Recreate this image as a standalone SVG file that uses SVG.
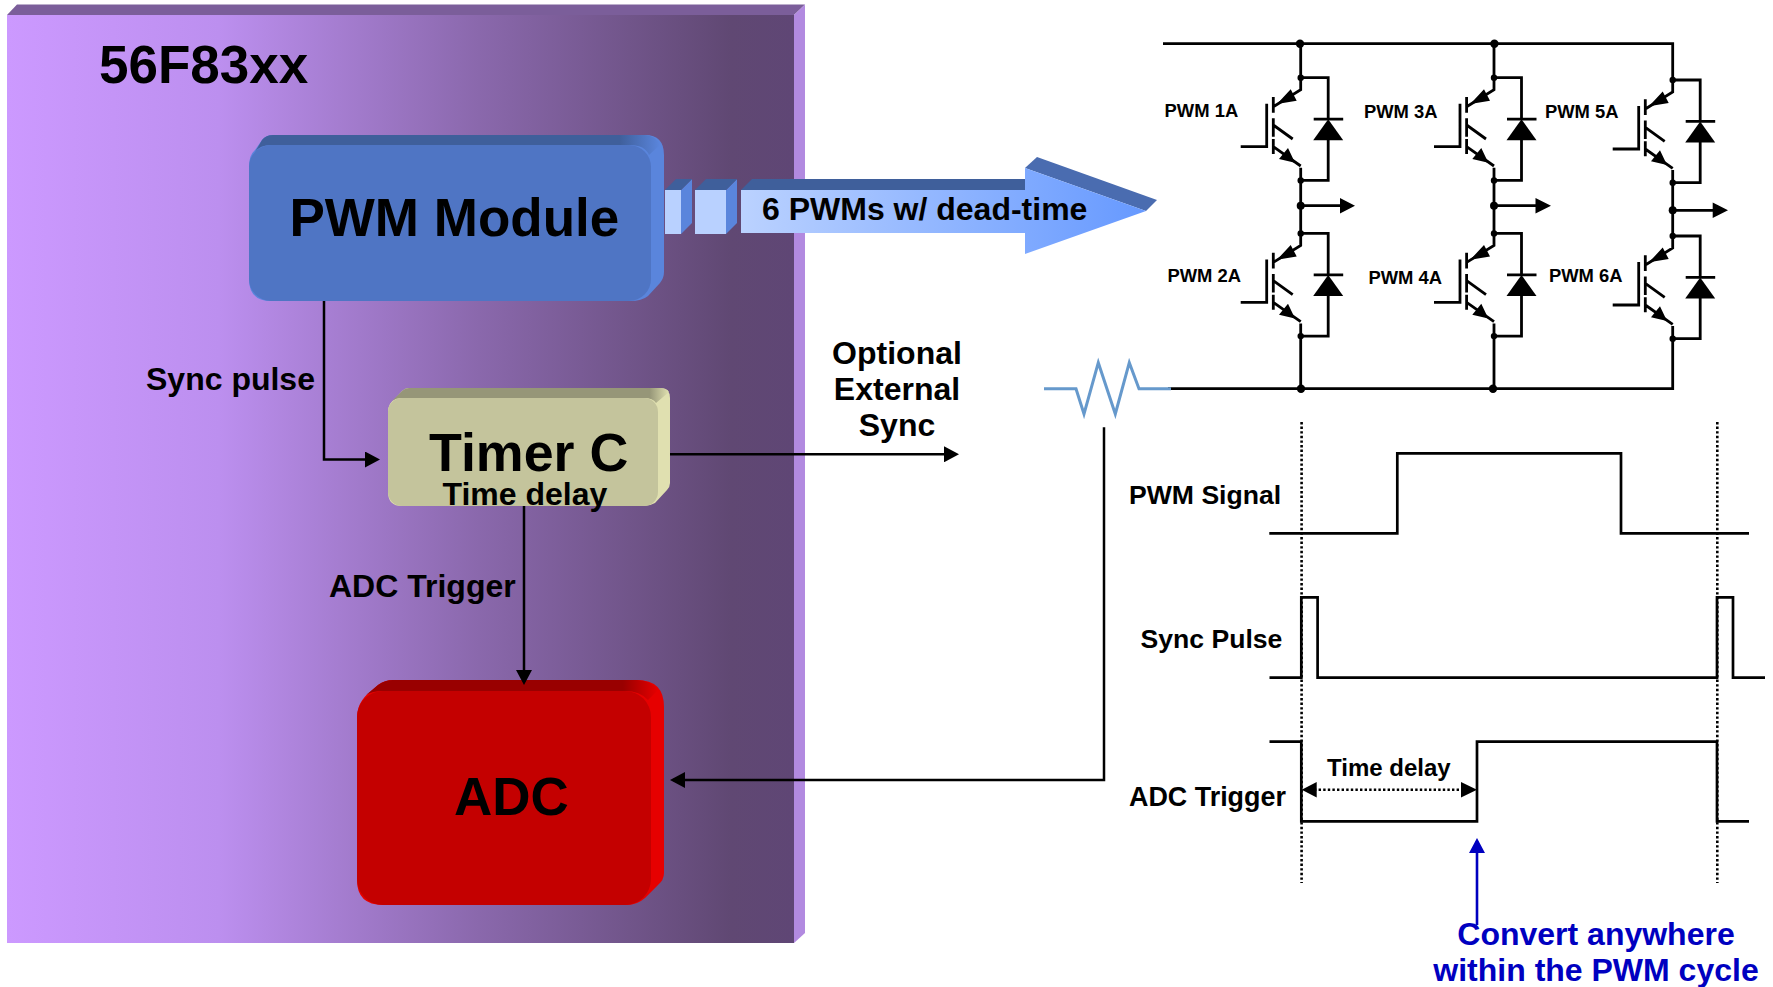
<svg xmlns="http://www.w3.org/2000/svg" xmlns:xlink="http://www.w3.org/1999/xlink" width="1773" height="987" viewBox="0 0 1773 987">
<style>
text{font-family:"Liberation Sans",Arial,sans-serif;font-weight:bold;fill:#000}
.f53{font-size:53px}.f32{font-size:32px}.f26{font-size:26.6px}.f24{font-size:24px}.f18{font-size:18.4px}
.mid{text-anchor:middle}
.blue{fill:#0000C0}
.wire{fill:none;stroke:#000;stroke-width:2.5}
.pw{fill:none;stroke:#000;stroke-width:2.8}
.wave{fill:none;stroke:#000;stroke-width:2.7}
.dot{fill:none;stroke:#000;stroke-width:2.6;stroke-dasharray:2.4 2.2}
.seg{fill:#B9D1FF}.segside{fill:#5A85DC}.segtop{fill:#3F5F9B}
</style>
<defs>
<linearGradient id="bg" x1="0" x2="1" y1="0" y2="0">
<stop offset="0" stop-color="#CC99FF"/><stop offset="0.27" stop-color="#BC8FEF"/><stop offset="0.6" stop-color="#8A68AC"/><stop offset="0.92" stop-color="#604873"/><stop offset="1" stop-color="#5F4675"/>
</linearGradient>
<linearGradient id="arrowfill" gradientUnits="userSpaceOnUse" x1="741" x2="1146" y1="0" y2="0">
<stop offset="0" stop-color="#BBD2FF"/><stop offset="1" stop-color="#6699FF"/>
</linearGradient>
<linearGradient id="pwmtop"><stop offset="0.9" stop-color="#3F5F9B"/><stop offset="1" stop-color="#5A85DC"/></linearGradient>
<linearGradient id="timertop"><stop offset="0.93" stop-color="#969678"/><stop offset="1" stop-color="#E0E0B0"/></linearGradient>
<linearGradient id="adctop"><stop offset="0.88" stop-color="#990000"/><stop offset="1" stop-color="#E60000"/></linearGradient>
<marker id="ah" markerUnits="userSpaceOnUse" markerWidth="16" markerHeight="16" refX="12" refY="8" orient="auto-start-reverse"><path d="M0 0L15 8L0 16Z" fill="#000"/></marker>
<marker id="ahb" markerUnits="userSpaceOnUse" markerWidth="16" markerHeight="16" refX="12" refY="8" orient="auto"><path d="M0 0L15 8L0 16Z" fill="#0000C0"/></marker>
<g id="cell">
<path class="pw" d="M0 0H27.5V41M27.5 62V102.7H0M13 41.4H42.5"/>
<path d="M27.5 41.5L42.5 62.5H12.5Z" fill="#000"/>
<path class="pw" d="M0 0V12L-27.4 29M-27.4 19.3V35M-27.4 40.5V59M-27.4 61.3V76.3M-34 26V69H-60M-27.4 47.3L-8 61.3M-27.4 69L0 88.3M0 90V103"/>
<path d="M-23.7 26.3L-10 11.6L-4 23ZM-5.7 85L-12.7 70.3L-21.7 81.3Z" fill="#000"/>
<circle cx="0" cy="0" r="3.2"/><circle cx="0" cy="102.7" r="3.2"/>
</g>
</defs>

<g id="chip">
<path d="M7 15L17 4.5H805L794 15Z" fill="#7B5E9A"/>
<path d="M794 15L805 4.5V933L794 943Z" fill="#B28AE0"/>
<rect x="7" y="15" width="787" height="928" fill="url(#bg)"/>
<text x="99" y="83" class="f53">56F83xx</text>
</g>

<g id="pwm-module">
<path d="M249 167Q249 155 255 150L262 140Q266 135 273 135H645Q664 135 664 155V272Q664 278 660 283L648 296Q642 301 630 301H271Q249 301 249 279Z" fill="#5A85DC"/>
<path d="M255 152L262 140Q266 135 273 135H645Q655 135 660 145L649 155Q645 145 630 145H271Q260 145 255 152Z" fill="url(#pwmtop)"/>
<rect x="249" y="145" width="402" height="156" rx="22" fill="#4F75C4"/>
<text x="289.5" y="236" class="f53">PWM Module</text>
</g>

<g id="pwm-arrow">
<path class="segside" d="M681 190L692 179V223L681 234Z"/><path class="segtop" d="M665 190L676 179H692L681 190Z"/><rect class="seg" x="665" y="190" width="16" height="44"/>
<path class="segside" d="M726 190L737 179V223L726 234Z"/><path class="segtop" d="M695 190L706 179H737L726 190Z"/><rect class="seg" x="695" y="190" width="31" height="44"/>
<path class="segtop" d="M741 190L752 179H1026V190Z"/>
<path d="M1025 168L1037 157L1157 200L1146 211Z" fill="#4A6CB0"/>
<path d="M741 190H1025V168L1146 211L1025 254V233H741Z" fill="url(#arrowfill)"/>
<text x="762" y="219.5" class="f32">6 PWMs w/ dead-time</text>
</g>

<g id="timer-c">
<path d="M388 412Q388 403 395 399L402 391Q405 388 409 388H660Q670 388 670 398V483Q670 487 667 490L655 503Q650 506 644 506H402Q388 506 388 492Z" fill="#E0E0B0"/>
<path d="M392 401L402 391Q405 388 409 388H660Q667 388 669 392L656 403Q653 398 644 398H402Q396 398 392 401Z" fill="url(#timertop)"/>
<rect x="388" y="398" width="270" height="108" rx="14" fill="#C4C49C"/>
</g>

<g id="adc">
<path d="M357 718Q357 702 370 692L378 685Q385 680 393 680H637Q664 680 664 707V873Q664 880 658 885L645 898Q637 905 627 905H383Q357 905 357 880Z" fill="#E60000"/>
<path d="M366 695L378 685Q385 680 393 680H637Q650 680 658 690L648 700Q640 691 625 691H383Q372 691 366 695Z" fill="url(#adctop)"/>
<rect x="357" y="691" width="294" height="214" rx="26" fill="#C40000"/>
<text x="454" y="815" class="f53">ADC</text>
</g>

<g id="connectors">
<path class="wire" d="M324 301V459.5H377" marker-end="url(#ah)"/>
<path class="wire" d="M524 506V682" marker-end="url(#ah)"/>
<path class="wire" d="M670 454.3H956" marker-end="url(#ah)"/>
<path class="wire" d="M1104 427.3V780H673" marker-end="url(#ah)"/>
</g>

<g id="labels">
<text x="429" y="471" class="f53" style="font-size:53.8px">Timer C</text>
<text x="442.5" y="505" class="f32">Time delay</text>
<text x="146" y="390" class="f32">Sync pulse</text>
<text x="329" y="597" class="f32">ADC Trigger</text>
<text x="897" y="364" class="f32 mid">Optional</text>
<text x="897" y="400" class="f32 mid">External</text>
<text x="897" y="436" class="f32 mid">Sync</text>
</g>

<g id="inverter">
<path class="pw" d="M1163 43.7H1672.7V80M1300.7 43.7V78M1494 43.7V78M1300.7 180V234M1494 180V234M1672.7 182V237M1300.7 336V388.7M1494 336V388.7M1672.7 338V388.7H1168"/>
<circle cx="1300" cy="43.7" r="4.2"/><circle cx="1494.4" cy="43.7" r="4.2"/>
<circle cx="1301" cy="388.7" r="4.2"/><circle cx="1493" cy="388.7" r="4.2"/>
<g id="q1"><use href="#cell" x="1300.7" y="77.7"/></g>
<g id="q2"><use href="#cell" x="1300.7" y="233.4"/></g>
<g id="q3"><use href="#cell" x="1494" y="77.7"/></g>
<g id="q4"><use href="#cell" x="1494" y="233.4"/></g>
<g id="q5"><use href="#cell" x="1672.7" y="80"/></g>
<g id="q6"><use href="#cell" x="1672.7" y="236"/></g>
<path class="pw" d="M1300.7 205.7H1342M1494 205.7H1537M1672.7 210.3H1714"/>
<path d="M1340 198L1355 205.7L1340 213.4ZM1535.5 198L1551 205.7L1535.5 213.4ZM1712.7 202.6L1728 210.3L1712.7 218Z"/>
<circle cx="1300.7" cy="205.7" r="4"/><circle cx="1494" cy="205.7" r="4"/><circle cx="1672.7" cy="210.3" r="4"/>
<text x="1164.6" y="116.5" class="f18">PWM 1A</text>
<text x="1364" y="118" class="f18">PWM 3A</text>
<text x="1545" y="118" class="f18">PWM 5A</text>
<text x="1167.5" y="282" class="f18">PWM 2A</text>
<text x="1368.4" y="284" class="f18">PWM 4A</text>
<text x="1549" y="282" class="f18">PWM 6A</text>
</g>

<g id="resistor">
<path d="M1044 388.7H1076L1084 414L1098.3 362.7L1115.3 414L1129.3 362.7L1139 388.7H1171" fill="none" stroke="#6699CC" stroke-width="3"/>
</g>

<g id="timing">
<path class="dot" d="M1301.6 422V883M1717.3 422V883"/>
<path class="wave" d="M1269.3 533.3H1397.3V453.3H1621V533.3H1749"/>
<path class="wave" d="M1269.5 677.7H1301.3V597.3H1317.6V677.7H1717V597.3H1733V677.7H1765"/>
<path class="wave" d="M1269.5 741.7H1301.3V821.3H1477V741.7H1717V821.3H1749"/>
<path class="dot" d="M1314 789.7H1464"/>
<path d="M1301.7 789.7L1316.7 782V797.4ZM1477 789.7L1461 782V797.4Z"/>
<text x="1129" y="504" class="f26">PWM Signal</text>
<text x="1140.5" y="647.7" class="f26">Sync Pulse</text>
<text x="1129" y="805.7" class="f26" style="font-size:26.9px">ADC Trigger</text>
<text x="1327" y="775.7" class="f24">Time delay</text>
</g>

<g id="convert-note">
<path d="M1477 925V841" fill="none" stroke="#0000C0" stroke-width="2.6" marker-end="url(#ahb)"/>
<text x="1596" y="945" class="f32 mid blue">Convert anywhere</text>
<text x="1596" y="981" class="f32 mid blue">within the PWM cycle</text>
</g>
</svg>
